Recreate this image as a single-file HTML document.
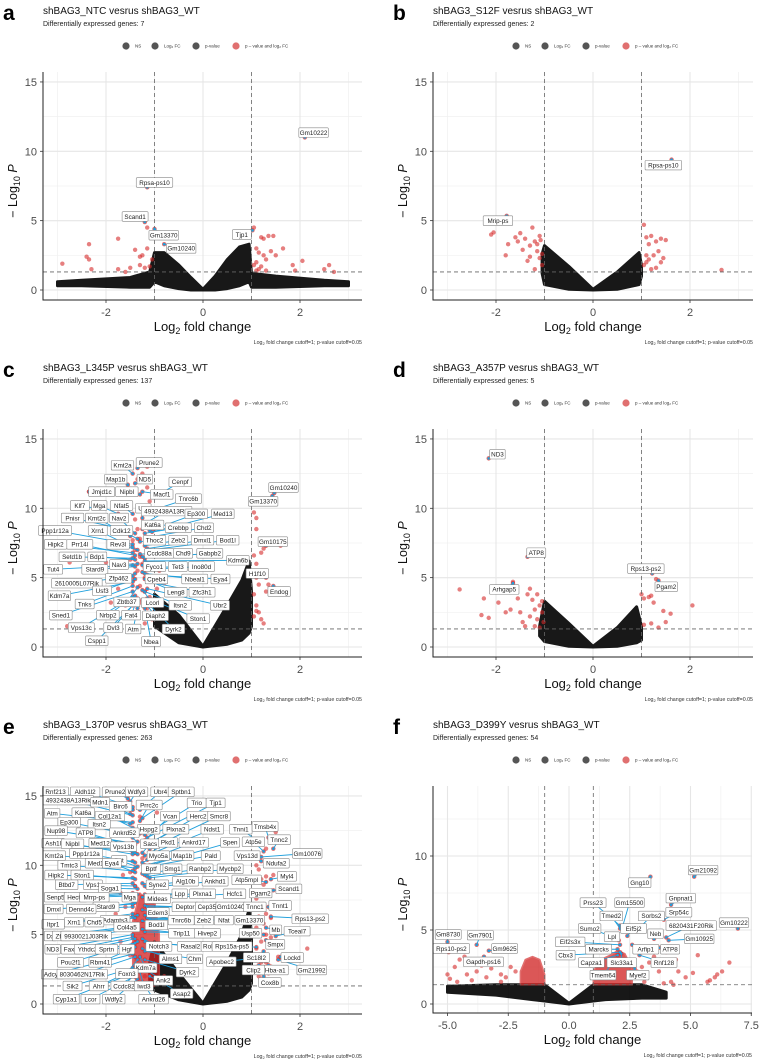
<!DOCTYPE html>
<html><head><meta charset="utf-8"><title>Volcano plots</title>
<style>
html,body{margin:0;padding:0;background:#fff;}
svg{display:block;font-family:"Liberation Sans",Arial,sans-serif;}
</style></head>
<body>
<svg id="fig" width="760" height="1063" viewBox="0 0 760 1063" xmlns="http://www.w3.org/2000/svg"></svg>
<script>
// ---------- DATA ----------
const panelIds = ['a','b','c','d','e','f'];
const panelTitles = ['shBAG3_NTC vesrus shBAG3_WT','shBAG3_S12F vesrus shBAG3_WT','shBAG3_L345P vesrus shBAG3_WT','shBAG3_A357P vesrus shBAG3_WT','shBAG3_L370P vesrus shBAG3_WT','shBAG3_D399Y vesrus shBAG3_WT'];
const degCounts = [7, 2, 137, 5, 263, 54];
const xTicksStd = [-2, 0, 2];
const xTicksF = [-5.0, -2.5, 0.0, 2.5, 5.0, 7.5];
const xTickLabelsF = ['-5.0','-2.5','0.0','2.5','5.0','7.5'];
const yTicksStd = [0, 5, 10, 15];
const yTicksF = [0, 5, 10];
const fcCutoff = 1;
const pCutoffLog = 1.30103;

const cloudXA = [-3,-2.5,-1.5,-1.1,-1.0,-0.8,-0.5,-0.25,0,0.25,0.5,0.75,0.95,1.0,1.5,2.5,3];
const cloudTopA = [0.6,0.7,0.9,1.3,2.7,2.7,1.8,0.9,0.05,1.0,2.2,3.1,3.3,1.2,1.0,0.7,0.6];
const cloudLowA = [0.3,0.3,0.2,0.2,0.6,0.3,0.1,0,0,0,0.1,0.3,0.6,0.2,0.2,0.3,0.3];
const cloudXB = [-1.05,-1,-0.5,0,0.5,0.95,1.0];
const cloudTopB = [2.6,3.2,1.7,0.05,1.3,2.7,1.8];
const cloudLowB = [1.2,0.4,0.05,0,0.05,0.4,1.0];
const cloudXC = [-1.0,-0.5,0,0.5,0.8,0.95,1.0];
const cloudTopC = [3.8,2.3,0.05,3.0,4.8,6.2,4.0];
const cloudLowC = [1.5,0.3,0,0.2,0.5,1.0,1.5];
const cloudXD = [-1.1,-1,-0.5,0,0.5,0.9,1.0];
const cloudTopD = [1.5,3.3,1.7,0.05,1.4,2.9,1.5];
const cloudLowD = [0.8,0.4,0.05,0,0.05,0.3,0.5];
const cloudXE = [-1.1,-1.0,-0.5,0,0.5,0.8,0.95,1.0];
const cloudTopE = [3.0,4.5,2.2,0.05,3.0,5.0,6.8,5.0];
const cloudLowE = [1.3,1.0,0.3,0,0.2,0.5,1.0,1.5];
const cloudXF = [-5,-3,-1.5,-1,0,1,1.5,3,4];
const cloudTopF = [1.2,1.3,1.3,1.3,0.05,1.3,1.3,1.3,0.8];
const cloudLowF = [0.8,0.6,0.3,0.2,0,0.2,0.3,0.4,0.4];

const blobXE = [-1.45,-1.3,-1.15,-1.0,-0.9];
const blobTopE = [6,8,7.5,7.5,5];
const blobLowE = [2,1.5,1.3,1.3,2];
const blobXFL = [-2.0,-1.8,-1.5,-1.2,-1.0];
const blobTopFL = [2.2,3.0,3.2,3.0,2.0];
const blobLowFL = [1.3,1.3,1.3,1.3,1.3];
const blobXFR = [1.0,1.3,1.7,2.0,2.3,2.6];
const blobTopFR = [2.2,3.0,3.3,3.6,3.4,2.4];
const blobLowFR = [1.3,1.3,1.3,1.3,1.3,1.3];

const redA = [[-2.9,1.9],[-2.35,3.3],[-2.4,2.4],[-2.35,2.2],[-2.3,1.5],[-1.75,3.7],[-1.75,1.5],[-1.4,2.9],[-1.3,2.4],[-1.25,2.5],[-1.15,3.0],[-1.2,1.6],[-1.1,1.7],[-1.05,2.2],[-1.15,4.5],[-1.3,1.8],[-1.5,1.6],[-1.6,1.3],[1.05,4.5],[1.1,3.0],[1.15,2.7],[1.2,3.8],[1.25,3.7],[1.35,3.9],[1.45,3.9],[1.65,3.0],[1.5,2.5],[1.3,2.2],[1.1,2.0],[1.2,1.7],[1.4,2.8],[1.85,1.8],[2.05,2.1],[1.9,1.4],[2.6,1.8],[2.7,1.3],[2.5,1.5],[1.05,1.8],[1.15,1.5],[1.25,2.5],[1.1,1.4],[1.3,1.4]];
const redB = [[-2.1,4.0],[-2.05,4.15],[-1.8,2.5],[-1.75,3.3],[-1.6,3.8],[-1.55,3.5],[-1.5,4.1],[-1.45,2.9],[-1.4,3.7],[-1.35,2.1],[-1.3,3.2],[-1.25,4.5],[-1.2,3.5],[-1.15,2.8],[-1.1,3.9],[-1.1,2.3],[-1.05,1.8],[-1.2,1.5],[-1.3,2.4],[-1.15,3.3],[-1.08,3.6],[-1.05,2.6],[1.05,4.7],[1.1,3.8],[1.15,3.3],[1.2,3.9],[1.3,3.5],[1.4,3.7],[1.5,3.6],[1.35,2.8],[1.25,2.5],[1.4,2.0],[1.1,2.5],[1.05,1.8],[1.1,2.0],[1.2,1.5],[1.3,1.6],[1.45,2.3],[2.65,1.45],[1.15,2.2]];
const redC = [[1.05,9.7],[1.1,9.3],[1.1,8.5],[1.05,6.6],[1.1,5.0],[1.15,4.5],[1.05,3.8],[1.1,3.0],[1.15,2.5],[1.2,2.0],[1.25,1.7],[1.05,2.2],[1.1,2.6],[1.2,6.8],[1.25,7.1],[1.6,7.3],[1.35,4.5],[1.3,4.0],[1.5,3.8],[1.2,5.5],[1.1,6.0],[-2.8,1.5],[-2.75,6.1],[-2.35,11.2],[-1.5,10.2],[-1.4,9.2],[-1.35,8.5],[-1.3,7.8],[-1.4,7.0],[-1.3,6.5],[-1.25,6.0],[-1.35,5.5],[-1.2,5.0],[-1.45,4.8],[-1.3,4.4],[-1.2,4.0],[-1.1,3.6],[-1.3,3.2],[-1.15,2.8],[-1.0,2.5],[-1.05,2.0],[-1.2,1.7],[-1.45,1.5],[-1.55,2.2],[-1.6,3.0],[-1.25,12.5],[-1.15,11.5],[-0.95,11.2],[-1.1,10.5],[-1.2,9.9],[-1.0,8.5],[-1.05,6.8],[-0.9,5.5],[-0.8,4.6],[-0.7,3.8],[-0.95,4.2],[-1.5,6.3],[-1.45,7.7],[-1.6,5.0],[-1.75,4.2],[-2.0,6.1],[-1.9,3.2],[-1.15,13.0],[-1.35,12.1]];
const redD = [[-2.75,4.15],[-2.25,3.5],[-2.3,2.3],[-2.15,2.1],[-1.95,3.2],[-1.8,2.5],[-1.7,2.7],[-1.65,4.7],[-1.55,3.5],[-1.5,2.5],[-1.45,1.8],[-1.35,3.8],[-1.3,4.2],[-1.25,3.4],[-1.2,2.7],[-1.15,2.0],[-1.1,3.0],[-1.05,2.5],[-1.02,1.8],[-1.2,1.5],[-1.4,1.5],[-1.3,2.2],[-1.1,1.4],[-1.05,3.3],[-1.15,3.8],[1.0,3.8],[1.05,3.5],[1.15,3.6],[1.2,3.7],[1.25,3.2],[1.3,4.9],[1.35,1.4],[1.45,2.6],[1.5,1.8],[1.6,2.4],[2.05,3.0],[1.2,1.7],[1.05,1.6]];
const redE = [[1.05,10.8],[1.1,10.0],[1.15,9.7],[1.2,9.0],[1.25,8.6],[1.3,9.2],[1.45,9.3],[1.2,8.0],[1.1,7.6],[1.15,7.2],[1.3,6.5],[1.4,6.2],[1.25,5.8],[1.3,5.0],[1.4,4.8],[1.2,4.5],[1.1,4.0],[1.2,3.5],[1.3,3.0],[1.4,2.7],[1.1,2.5],[1.15,2.0],[1.25,1.7],[1.35,2.2],[1.55,3.4],[1.6,3.3],[2.15,4.0],[1.5,12.4],[1.3,11.2],[1.05,6.0],[1.1,5.5],[1.2,3.0],[1.3,1.5],[-2.65,6.9],[-2.0,14.8],[-1.55,15.0],[-1.5,14.2],[-1.3,13.5],[-1.6,12.5],[-1.4,11.5],[-1.25,10.5],[-1.5,9.5],[-1.4,8.5],[-1.7,8.0],[-1.6,7.0],[-1.8,6.5],[-1.5,5.5],[-1.7,4.5],[-1.5,3.5],[-1.35,2.5],[-1.2,2.0],[-1.1,1.5],[-0.95,13.8],[-1.1,12.8],[-0.85,3.0],[-0.8,2.0],[-1.25,15.3],[-1.65,9.3],[-1.9,4.0],[-1.55,2.0]];
const redF = [[-5.0,2.0],[-4.9,1.7],[-4.7,2.5],[-4.5,3.0],[-4.3,3.2],[-4.2,2.0],[-4.0,1.6],[-3.8,2.2],[-3.6,2.6],[-3.4,1.8],[-3.2,2.4],[-3.0,3.0],[-2.8,2.0],[-2.6,1.8],[-2.4,2.5],[-2.2,2.2],[-2.8,1.5],[-4.6,1.5],[-3.9,2.8],[3.0,2.5],[3.3,2.8],[3.7,2.2],[4.2,1.5],[4.5,2.2],[4.8,1.8],[5.1,2.1],[5.3,3.3],[3.5,3.2],[4.0,3.5],[4.4,3.0],[5.7,1.5],[6.0,1.8],[6.3,2.2],[6.6,2.8],[5.8,1.6],[6.1,2.0],[2.8,2.2],[3.1,1.5],[3.9,1.4],[4.3,1.3]];

const labA = [['Gm10222',2.1,11.0,2.28,11.35],['Rpsa-ps10',-1.15,7.4,-1.0,7.75],['Scand1',-1.2,4.9,-1.4,5.3],['Gm13370',-1.0,4.4,-0.81,3.95],['Gm10240',-0.8,3.3,-0.45,3.0],['Tjp1',1.02,4.3,0.8,4.0]];
const labB = [['Rpsa-ps10',1.62,9.4,1.45,9.0],['Mrip-ps',-1.78,5.35,-1.96,5.0]];
const labD = [['ND3',-2.15,13.6,-1.97,13.9],['ATP8',-1.35,6.5,-1.17,6.8],['Arhgap5',-1.65,4.6,-1.83,4.15],['Rps13-ps2',1.22,5.3,1.09,5.65],['Pgam2',1.35,4.8,1.51,4.35]];
const labC = [['Prune2',-1.35,12.9,-1.11,13.3],['Kmt2a',-1.45,12.5,-1.66,13.1],['Map1b',-1.55,11.7,-1.8,12.1],['ND5',-1.4,11.8,-1.2,12.1],['Cenpf',-0.95,10.9,-0.47,11.9],['Jmjd1c',-2.35,11.2,-2.09,11.2],['Nipbl',-1.3,11.0,-1.57,11.2],['Macf1',-1.25,11.2,-0.85,11.0],['Tnrc6b',-1.1,9.8,-0.3,10.7],['Klf7',-2.2,10.0,-2.54,10.2],['Mga',-1.75,9.6,-2.14,10.2],['Nfat5',-1.45,9.6,-1.68,10.2],['Ubr',-1.25,9.3,-1.23,10.0],['4932438A13Rik',-1.15,9.0,-0.75,9.8],['Ep300',-1.1,8.4,-0.14,9.6],['Med13',-1.05,8.3,0.41,9.6],['Pnisr',-1.5,8.4,-2.69,9.3],['Kmt2c',-1.5,8.0,-2.19,9.3],['Nav2',-1.4,8.2,-1.73,9.3],['Kat6a',-1.25,8.5,-1.04,8.8],['Crebbp',-1.2,8.2,-0.51,8.6],['Chd2',-1.15,7.9,0.02,8.6],['Ppp1r12a',-1.45,7.4,-3.05,8.4],['Xrn1',-1.45,7.2,-2.17,8.4],['Cdk12',-1.35,7.8,-1.68,8.4],['Rev3l',-1.35,7.0,-1.75,7.4],['Hipk2',-1.45,6.8,-3.04,7.4],['Prr14l',-1.4,6.6,-2.54,7.4],['Thoc2',-1.3,7.6,-1.0,7.7],['Zeb2',-1.2,7.3,-0.51,7.7],['Dmxl1',-1.15,7.1,-0.01,7.7],['Bod1l',-1.1,7.0,0.51,7.7],['Gm10240',1.47,11.1,1.66,11.5],['Gm13370',1.43,10.9,1.24,10.5],['Gm10175',1.3,7.3,1.44,7.6],['Ccdc88a',-1.3,6.7,-0.9,6.75],['Chd9',-1.25,6.5,-0.41,6.75],['Gabpb2',-1.2,6.4,0.14,6.75],['Setd1b',-1.45,6.4,-2.7,6.5],['Bdp1',-1.4,6.3,-2.18,6.5],['Kdm6b',-1.2,6.2,0.72,6.25],['Nav3',-1.35,6.0,-1.73,5.95],['Tut4',-1.45,5.9,-3.09,5.6],['Stard9',-1.4,5.8,-2.23,5.6],['Fyco1',-1.25,5.9,-1.0,5.8],['Tet3',-1.2,5.7,-0.52,5.8],['Ino80d',-1.15,5.6,-0.03,5.8],['H1f10',1.3,5.0,1.12,5.3],['Zfp462',-1.4,5.3,-1.74,4.95],['Cpeb4',-1.25,5.4,-0.96,4.9],['Nbeal1',-1.2,5.3,-0.17,4.9],['Eya4',-1.15,5.2,0.36,4.9],['2610005L07Rik',-1.45,5.1,-2.6,4.6],['Usf3',-1.4,4.9,-2.08,4.05],['Leng8',-1.2,4.9,-0.56,3.95],['Zfc3h1',-1.15,4.7,-0.02,3.95],['Endog',1.45,4.4,1.57,4.0],['Kdm7a',-1.45,4.7,-2.96,3.7],['Zbtb37',-1.35,4.3,-1.57,3.25],['Lcorl',-1.25,4.1,-1.04,3.2],['Tnks',-1.45,4.4,-2.44,3.1],['Itsn2',-1.2,4.0,-0.47,3.0],['Ubr2',-1.15,4.2,0.35,3.0],['Sned1',-1.45,4.0,-2.93,2.3],['Nrbp2',-1.4,3.7,-1.96,2.3],['Fat4',-1.35,3.5,-1.48,2.3],['Diaph2',-1.25,3.4,-0.98,2.25],['Ston1',-1.15,3.5,-0.1,2.05],['Vps13c',-1.45,3.6,-2.51,1.4],['Dvl3',-1.4,3.2,-1.85,1.4],['Atm',-1.35,2.8,-1.44,1.3],['Dyrk2',-1.1,3.0,-0.61,1.3],['Cspp1',-1.45,3.0,-2.19,0.45],['Nbea',-1.2,2.8,-1.07,0.4]];
const labE = [['Rnf213',-1.5,14.0,-3.04,15.3],['Aldh1l2',-1.45,14.2,-2.43,15.3],['Prune2',-1.55,14.8,-1.81,15.3],['Wdfy3',-1.5,14.6,-1.37,15.3],['Ubr4',-1.3,14.0,-0.88,15.3],['Sptbn1',-1.25,13.4,-0.45,15.3],['4932438A13Rik',-1.45,13.6,-2.78,14.7],['Mdn1',-1.5,13.7,-2.12,14.55],['Birc6',-1.45,14.0,-1.7,14.25],['Prrc2c',-1.3,13.2,-1.11,14.35],['Trio',-1.2,12.2,-0.13,14.5],['Tjp1',-1.15,12.0,0.26,14.5],['Atm',-1.45,13.1,-3.11,13.75],['Kat6a',-1.5,13.0,-2.47,13.8],['Col12a1',-1.45,12.7,-1.92,13.55],['Vcan',-1.2,11.8,-0.68,13.55],['Herc2',-1.15,11.5,-0.1,13.55],['Smcr8',-1.1,11.2,0.33,13.55],['Ep300',-1.45,12.2,-2.76,13.1],['Itsn2',-1.45,12.0,-2.14,12.95],['Hspg2',-1.3,12.3,-1.12,12.6],['Plxna2',-1.2,11.4,-0.56,12.6],['Ndst1',-1.1,10.8,0.19,12.6],['Tnni1',1.2,11.6,0.78,12.6],['Tmsb4x',1.35,12.0,1.28,12.8],['Nup98',-1.45,11.6,-3.03,12.5],['ATP8',-1.45,11.4,-2.42,12.35],['Ankrd52',-1.35,11.7,-1.62,12.35],['Tnnc2',1.45,11.2,1.57,11.85],['Ash1l',-1.45,11.0,-3.09,11.6],['Nipbl',-1.45,10.8,-2.69,11.55],['Med12',-1.4,10.9,-2.12,11.6],['Vps13b',-1.35,10.8,-1.64,11.35],['Sacs',-1.25,10.9,-1.09,11.55],['Pkd1',-1.2,10.7,-0.72,11.65],['Ankrd17',-1.15,10.4,-0.19,11.65],['Spen',-1.1,10.0,0.56,11.65],['Atp5e',1.25,11.0,1.04,11.7],['Kmt2a',-1.45,10.3,-3.07,10.7],['Ppp1r12a',-1.4,10.2,-2.41,10.85],['Gm10076',1.2,10.6,2.15,10.85],['Myo5a',-1.25,10.2,-0.92,10.7],['Map1b',-1.2,10.0,-0.42,10.7],['Pald',-1.15,9.9,0.16,10.7],['Vps13d',1.2,10.3,0.91,10.7],['Med13l',-1.4,9.8,-2.16,10.15],['Dst',-1.35,9.9,-1.73,10.35],['Ndufa2',1.3,10.0,1.51,10.15],['Tmtc3',-1.45,9.6,-2.76,10.0],['Eya4',-1.4,9.5,-1.88,10.15],['Bptf',-1.25,9.4,-1.07,9.75],['Smg1',-1.2,9.3,-0.63,9.75],['Ranbp2',-1.15,9.2,-0.06,9.75],['Mycbp2',-1.1,9.1,0.56,9.75],['Hipk2',-1.45,9.1,-3.03,9.3],['Ston1',-1.4,9.0,-2.49,9.3],['Myl4',1.4,9.0,1.73,9.2],['Btbd7',-1.45,8.7,-2.81,8.6],['Vps1',-1.4,8.5,-2.27,8.6],['Syne2',-1.25,8.7,-0.94,8.6],['Alg10b',-1.2,8.5,-0.36,8.85],['Ankhd1',-1.15,8.4,0.25,8.85],['Atp5mpl',1.3,8.8,0.9,8.95],['Soga1',-1.35,8.3,-1.92,8.35],['Scand1',1.45,8.2,1.77,8.3],['Pgam2',1.2,7.8,1.19,8.0],['Senp5',-1.45,8.0,-3.04,7.7],['Hectd',-1.45,7.9,-2.63,7.7],['Mrrp-ps',-1.4,7.8,-2.24,7.7],['Mga',-1.35,7.9,-1.51,7.7],['Mideas',-1.25,7.7,-0.94,7.6],['Lpp',-1.2,7.9,-0.48,7.95],['Plxna1',-1.15,7.8,-0.01,7.95],['Hcfc1',-1.1,7.6,0.65,7.95],['Stard9',-1.4,7.3,-2.0,7.0],['Tnnt1',1.35,7.0,1.59,7.1],['Dmxl',-1.45,7.2,-3.08,6.85],['Dennd4c',-1.45,7.0,-2.51,6.85],['Deptor',-1.2,7.1,-0.37,7.0],['Cep35',-1.15,7.0,0.08,7.0],['Gm10240',1.1,7.0,0.57,7.0],['Tnnc1',1.25,7.2,1.07,7.0],['Edem3',-1.25,6.8,-0.93,6.6],['Rps13-ps2',1.4,6.3,2.21,6.15],['Adamts3',-1.35,6.4,-1.81,6.05],['Itpr1',-1.45,6.5,-3.09,5.75],['Xrn1',-1.45,6.3,-2.66,5.9],['Chd5',-1.4,6.2,-2.24,5.9],['Tnrc6b',-1.2,6.4,-0.45,6.05],['Zeb2',-1.15,6.2,0.02,6.05],['Nfat',-1.1,6.1,0.43,6.05],['Gm13370',1.15,6.3,0.96,6.05],['Bod1l',-1.25,6.0,-0.96,5.7],['Mb',1.3,5.5,1.5,5.35],['Tceal7',1.5,4.9,1.94,5.25],['Col4a5',-1.35,5.8,-1.57,5.55],['Dx',-1.45,5.6,-3.15,4.9],['Zfp8',-1.45,5.5,-2.91,4.9],['9930021J03Rik',-1.4,5.4,-2.41,4.9],['Trip11',-1.25,5.4,-0.44,5.1],['Hivep2',-1.2,5.2,0.09,5.1],['Usp50',1.25,5.0,0.98,5.1],['Smpx',1.3,4.6,1.49,4.3],['ND3',-1.45,5.0,-3.1,3.95],['Faxc',-1.45,4.8,-2.73,3.95],['Ythdc2',-1.4,4.7,-2.38,3.95],['Sprtn',-1.4,4.4,-1.99,3.95],['Hgf',-1.35,4.5,-1.57,3.95],['Notch3',-1.25,4.7,-0.91,4.15],['Rasal2',-1.2,4.5,-0.26,4.15],['Rob',-1.15,4.4,0.12,4.15],['Rps15a-ps5',1.1,4.1,0.6,4.15],['Sc18l2',1.25,3.8,1.1,3.35],['Lockd',1.6,3.4,1.84,3.35],['Pou2f1',-1.45,4.3,-2.73,3.0],['Rbm41',-1.4,4.1,-2.12,3.0],['Alms1',-1.25,4.0,-0.67,3.25],['Chm',-1.2,3.8,-0.17,3.25],['Apobec2',1.1,3.3,0.38,3.05],['Kdm7a',-1.3,3.4,-1.18,2.6],['Hba-a1',1.35,2.8,1.49,2.45],['Gm21992',1.55,3.2,2.24,2.45],['Clip2',1.15,2.8,1.04,2.45],['Adcy9',-1.45,3.6,-3.1,2.15],['8030462N17Rik',-1.4,3.4,-2.49,2.15],['Foxn3',-1.35,3.2,-1.57,2.2],['Dyrk2',-1.2,3.2,-0.32,2.3],['Ank2',-1.15,2.4,-0.82,1.7],['Cox8b',1.25,2.0,1.38,1.55],['Sik2',-1.45,2.6,-2.69,1.3],['Ahrr',-1.4,2.5,-2.15,1.3],['Ccdc82',-1.35,2.4,-1.63,1.3],['Iwd3',-1.3,2.3,-1.22,1.3],['Asap2',-1.1,2.0,-0.44,0.75],['Cyp1a1',-1.45,2.2,-2.82,0.35],['Lcor',-1.4,2.0,-2.32,0.35],['Wdfy2',-1.35,1.8,-1.84,0.35],['Ankrd26',-1.25,1.6,-1.02,0.35]];
const labF = [['Gm21092',5.15,8.6,5.52,9.05],['Gng10',3.35,8.6,2.91,8.2],['Gnpnat1',4.2,6.7,4.6,7.15],['Prss23',2.1,5.3,0.99,6.85],['Gm15500',2.2,5.2,2.49,6.85],['Srp54c',3.9,5.7,4.52,6.2],['Tmed2',2.1,5.1,1.74,5.95],['Sorbs2',2.75,4.9,3.39,5.95],['Gm10222',6.95,5.1,6.79,5.5],['6820431F20Rik',4.0,4.5,5.03,5.3],['Sumo2',1.9,4.5,0.85,5.1],['Eif5j2',2.4,4.6,2.66,5.1],['Lpl',2.05,4.3,1.77,4.55],['Neb',3.5,4.4,3.56,4.75],['Gm10925',4.1,4.3,5.36,4.4],['Eif2s3x',2.1,4.0,0.05,4.2],['Marcks',2.0,3.7,1.22,3.7],['Arfip1',2.6,4.0,3.16,3.7],['ATP8',3.7,3.8,4.16,3.7],['Gm8730',-5.0,4.2,-4.97,4.7],['Gm7901',-3.8,4.0,-3.65,4.65],['Rps10-ps2',-4.95,3.5,-4.84,3.75],['Gm9625',-3.3,3.6,-2.65,3.75],['Gapdh-ps16',-3.5,3.2,-3.52,2.85],['Cbx3',2.1,3.5,-0.14,3.3],['Capza1',2.0,3.3,0.92,2.8],['Slc33a1',2.15,3.4,2.17,2.8],['Rnf128',2.9,3.3,3.91,2.8],['Tmem64',1.9,3.0,1.4,1.95],['Myef2',2.7,2.4,2.83,1.95]];

const layouts = {
  a:{L:43,R:362,T:72,B:300,x0:203,xs:48.5,y0:290,ys:13.87,col:0,row:0},
  b:{L:433,R:753,T:72,B:300,x0:593,xs:48.5,y0:290,ys:13.87,col:1,row:0},
  c:{L:43,R:362,T:429,B:657,x0:203,xs:48.5,y0:647,ys:13.87,col:0,row:1},
  d:{L:433,R:753,T:429,B:657,x0:593,xs:48.5,y0:647,ys:13.87,col:1,row:1},
  e:{L:43,R:362,T:786,B:1014,x0:203,xs:48.5,y0:1004,ys:13.87,col:0,row:2},
  f:{L:433,R:752,T:786,B:1013,x0:569,xs:24.3,y0:1004,ys:14.8,col:1,row:2}
};
const panelData = {
  a:{cx:cloudXA,ct:cloudTopA,cl:cloudLowA,red:redA,lab:labA,blobs:[]},
  b:{cx:cloudXB,ct:cloudTopB,cl:cloudLowB,red:redB,lab:labB,blobs:[]},
  c:{cx:cloudXC,ct:cloudTopC,cl:cloudLowC,red:redC,lab:labC,blobs:[]},
  d:{cx:cloudXD,ct:cloudTopD,cl:cloudLowD,red:redD,lab:labD,blobs:[]},
  e:{cx:cloudXE,ct:cloudTopE,cl:cloudLowE,red:redE,lab:labE,blobs:[[blobXE,blobTopE,blobLowE]]},
  f:{cx:cloudXF,ct:cloudTopF,cl:cloudLowF,red:redF,lab:labF,blobs:[[blobXFL,blobTopFL,blobLowFL],[blobXFR,blobTopFR,blobLowFR]]}
};

const NS = 'http://www.w3.org/2000/svg';
const svg = document.getElementById('fig');
function mk(tag, attrs, parent){
  const e = document.createElementNS(NS, tag);
  for (const k in attrs) e.setAttribute(k, attrs[k]);
  (parent || svg).appendChild(e);
  return e;
}
function areaPath(xs, top, low, X, Y){
  let d = '';
  xs.forEach((v,i)=>{ d += (i?'L':'M') + X(v).toFixed(1) + ',' + Y(top[i]).toFixed(1); });
  for (let i = xs.length-1; i >= 0; i--) d += 'L' + X(xs[i]).toFixed(1) + ',' + Y(low[i]).toFixed(1);
  return d + 'Z';
}

panelIds.forEach((id, pi) => {
  const Lo = layouts[id], D = panelData[id];
  const dx = Lo.col ? 390 : 0, dy = Lo.row * 357;
  const X = v => Lo.x0 + v * Lo.xs;
  const Y = v => Lo.y0 - v * Lo.ys;
  const g = mk('g', {});
  
  

  const letter = mk('text', {x: 3 + dx, y: 20 + dy, 'font-size': 21, 'font-weight': 'bold', fill: '#000'}, g);
  letter.textContent = id;
  
  

  const title = mk('text', {x: Lo.L, y: 14 + dy, 'font-size': 10, fill: '#111'}, g);
  title.textContent = panelTitles[pi];
  
  

  const sub = mk('text', {x: Lo.L, y: 26 + dy, 'font-size': 7, fill: '#222'}, g);
  sub.textContent = 'Differentially expressed genes: ' + degCounts[pi];
  
  

  const lg = mk('g', {}, g);
  
  
  const legX = [126, 155, 196, 236], legT = ['NS', 'Log\u2082 FC', 'p-value', 'p \u2013 value and log\u2082 FC'];
  const legC = ['#555', '#555', '#555', '#e07070'];
  legX.forEach((lx, i) => {
    const c = mk('circle', {cx: lx + dx, cy: 46 + dy, r: 3.6, fill: legC[i]}, lg);
    
    
    const t = mk('text', {x: lx + dx + 9, y: 47.5 + dy, 'font-size': 4.5, fill: '#333'}, lg);
    t.textContent = legT[i];
    
    
  });

  const isF = id === 'f';
  const xt = isF ? xTicksF : xTicksStd, yt = isF ? yTicksF : yTicksStd;
  const xMinor = isF ? [-3.75,-1.25,1.25,3.75,6.25] : [-3,-1,1,3];
  const yMinor = [2.5,7.5,12.5];
  const gr = mk('g', {}, g);
  
  
  xMinor.forEach(v => mk('line', {x1: X(v), x2: X(v), y1: Lo.T, y2: Lo.B, stroke: '#f0f0f0', 'stroke-width': 0.7}, gr));
  yMinor.forEach(v => { if (Y(v) > Lo.T) mk('line', {x1: Lo.L, x2: Lo.R, y1: Y(v), y2: Y(v), stroke: '#f0f0f0', 'stroke-width': 0.7}, gr); });
  xt.forEach(v => mk('line', {x1: X(v), x2: X(v), y1: Lo.T, y2: Lo.B, stroke: '#e6e6e6', 'stroke-width': 1.1}, gr));
  yt.forEach(v => mk('line', {x1: Lo.L, x2: Lo.R, y1: Y(v), y2: Y(v), stroke: '#e6e6e6', 'stroke-width': 1.1}, gr));

  const cloud = mk('path', {d: areaPath(D.cx, D.ct, D.cl, X, Y), fill: '#000', stroke: '#000', 'stroke-width': 3, 'stroke-linejoin': 'round', opacity: 0.9}, g);
  
  

  D.blobs.forEach(b => {
    const p = mk('path', {d: areaPath(b[0], b[1], b[2], X, Y), fill: '#d02020', stroke: '#d84040', 'stroke-width': 1.5, 'stroke-linejoin': 'round', opacity: 0.75}, g);
    
    
  });

  D.red.forEach(pt => {
    const c = mk('circle', {cx: X(pt[0]), cy: Y(pt[1]), r: 2.2, fill: '#d62a2a', 'fill-opacity': 0.6}, g);
    
    
  });
  D.lab.forEach(l => {
    const c = mk('circle', {cx: X(l[1]), cy: Y(l[2]), r: 2.2, fill: '#d62a2a', 'fill-opacity': 0.7}, g);
    
    
  });

  [-fcCutoff, fcCutoff].forEach(v => {
    const ln = mk('line', {x1: X(v), x2: X(v), y1: Lo.T, y2: Lo.B, stroke: '#666', 'stroke-width': 0.8, 'stroke-dasharray': '4,3'}, g);
    
    
  });
  const hl = mk('line', {x1: Lo.L, x2: Lo.R, y1: Y(pCutoffLog), y2: Y(pCutoffLog), stroke: '#666', 'stroke-width': 0.8, 'stroke-dasharray': '4,3'}, g);
  
  

  D.lab.forEach(l => {
    const ln = mk('line', {x1: X(l[3]), y1: Y(l[4]), x2: X(l[1]), y2: Y(l[2]), stroke: '#1e9fdc', 'stroke-width': 0.9}, g);
    
    
    const tip = mk('circle', {cx: X(l[1]), cy: Y(l[2]), r: 1.3, fill: '#1e9fdc'}, g);
    
    
  });
  D.lab.forEach(l => {
    const w = l[0].length * 3.5 + 5, cx = X(l[3]), cy = Y(l[4]);
    const r = mk('rect', {x: cx - w/2, y: cy - 4.8, width: w, height: 9.6, rx: 1, fill: '#fff', stroke: '#888', 'stroke-width': 0.6}, g);
    
    
    const t = mk('text', {x: cx, y: cy + 2.3, 'font-size': 6.3, 'text-anchor': 'middle', fill: '#222'}, g);
    t.textContent = l[0];
    
    
  });

  const ax = mk('path', {d: `M${Lo.L},${Lo.T}V${Lo.B}H${Lo.R}`, fill: 'none', stroke: '#222', 'stroke-width': 1}, g);
  
  
  xt.forEach((v, i) => {
    const tk = mk('line', {x1: X(v), x2: X(v), y1: Lo.B, y2: Lo.B + 3, stroke: '#333', 'stroke-width': 0.8}, g);
    
    
    const t = mk('text', {x: X(v), y: Lo.B + 16, 'font-size': 11, 'text-anchor': 'middle', fill: '#4d4d4d'}, g);
    t.textContent = isF ? xTickLabelsF[i] : String(v);
    
    
  });
  yt.forEach(v => {
    const tk = mk('line', {x1: Lo.L - 3, x2: Lo.L, y1: Y(v), y2: Y(v), stroke: '#333', 'stroke-width': 0.8}, g);
    
    
    const t = mk('text', {x: Lo.L - 6, y: Y(v) + 4, 'font-size': 11, 'text-anchor': 'end', fill: '#4d4d4d'}, g);
    t.textContent = String(v);
    
    
  });

  const xtl = mk('text', {x: (Lo.L + Lo.R)/2, y: Lo.B + 31, 'font-size': 13, 'text-anchor': 'middle', fill: '#111'}, g);
  xtl.innerHTML = 'Log<tspan font-size="9" dy="3">2</tspan><tspan dy="-3"> fold change</tspan>';
  
  

  const yx = Lo.L - 26, yy = (Lo.T + Lo.B)/2 + 5;
  const ytl = mk('text', {x: yx, y: yy, 'font-size': 12.5, 'text-anchor': 'middle', fill: '#111', transform: `rotate(-90 ${yx} ${yy})`}, g);
  ytl.innerHTML = '\u2212 Log<tspan font-size="9" dy="3">10</tspan><tspan dy="-3" font-style="italic"> P</tspan>';
  
  

  const cap = mk('text', {x: Lo.R, y: Lo.B + 44, 'font-size': 5.3, 'text-anchor': 'end', fill: '#333'}, g);
  cap.innerHTML = 'Log<tspan font-size="4" dy="1">2</tspan><tspan dy="-1"> fold change cutoff=1; p-value cutoff=0.05</tspan>';
  
  
});
</script>
</body></html>
